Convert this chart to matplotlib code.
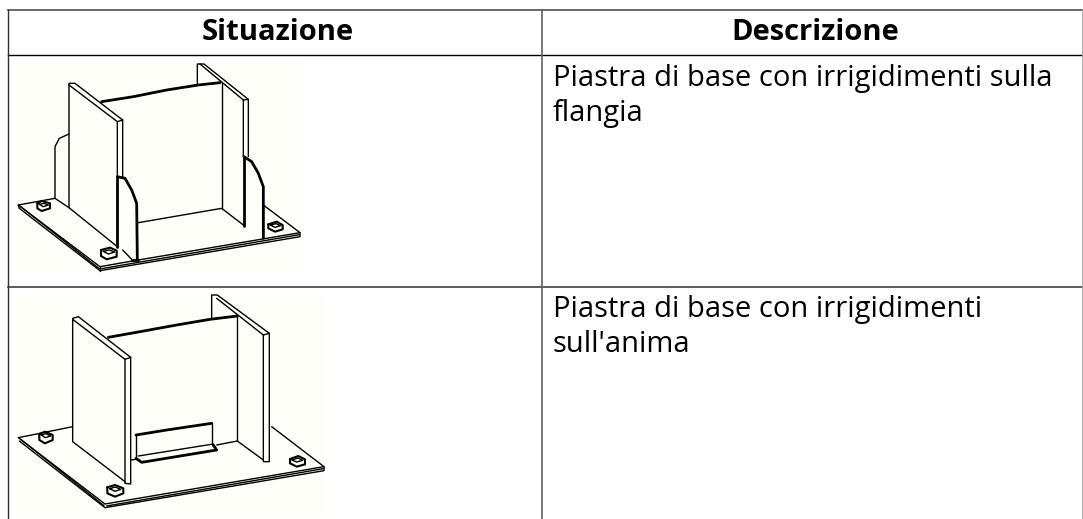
import matplotlib
matplotlib.use("Agg")
import matplotlib.pyplot as plt
from matplotlib.patches import Rectangle

# table content
headers = ["Situazione", "Descrizione"]
row1_lines = ["Piastra di base con irrigidimenti sulla", "flangia"]
row2_lines = ["Piastra di base con irrigidimenti", "sull'anima"]

# table grid in pixels
col_x = [7.5, 542, 1082.5]
row_y = [9.5, 55, 286.7, 519]

# drawing 1 strokes, in 3x zoom units: (width, points)
drawing1 = [
    (1, [(55, 495), (300, 680), (415, 660), (900, 578), (790, 495)]),
    (1, [(58, 505), (300, 692), (900, 590), (900, 578)]),
    (1, [(55, 495), (58, 505)]),
    (1, [(300, 680), (300, 692)]),
    (1, [(62, 500), (298, 686)]),
    (1, [(305, 686), (898, 584)]),
    (1, [(55, 495), (165, 475)]),
    (1, [(165, 475), (207, 503)]),
    (1, [(207, 503), (352, 620)]),
    (1, [(368, 630), (395, 658)]),
    (1, [(207, 500), (207, 130), (225, 130), (368, 240), (368, 410)]),
    (1, [(207, 135), (352, 245), (352, 410)]),
    (1, [(352, 245), (368, 240)]),
    (2, [(352, 410), (352, 620)]),
    (2, [(352, 410), (375, 415), (395, 450), (410, 490), (412, 660)]),
    (2, [(395, 660), (415, 660)]),
    (1, [(165, 475), (165, 320), (178, 295), (207, 282)]),
    (2, [(305, 185), (400, 170), (500, 150), (595, 135), (660, 128)]),
    (1, [(592, 135), (592, 72), (612, 72), (745, 178), (745, 350)]),
    (1, [(600, 72), (730, 180), (730, 350)]),
    (1, [(730, 180), (745, 178)]),
    (1, [(665, 130), (665, 505)]),
    (1, [(415, 548), (665, 505), (730, 555)]),
    (2, [(732, 350), (732, 558)]),
    (2, [(732, 350), (755, 365), (775, 400), (790, 440), (790, 595)]),
    (1, [(790, 495), (790, 595)]),
    (1.5, [(112, 490), (125, 483), (150, 490), (150, 505), (125, 513), (112, 505), (112, 490)]),
    (1, [(118, 493), (132, 490), (145, 495), (130, 500), (118, 493)]),
    (1.5, [(303, 630), (330, 623), (350, 632), (350, 650), (320, 658), (303, 648), (303, 630)]),
    (1, [(310, 634), (328, 630), (344, 636), (325, 642), (310, 634)]),
    (1.5, [(805, 553), (830, 545), (848, 555), (848, 568), (825, 575), (805, 565), (805, 553)]),
    (1, [(811, 555), (828, 551), (842, 557), (825, 562), (811, 555)]),
]

# drawing 2 strokes
drawing2 = [
    (1, [(55, 473), (315, 672), (972, 560), (815, 440)]),
    (1, [(58, 483), (315, 683), (972, 572), (972, 560)]),
    (1, [(62, 478), (312, 677)]),
    (1, [(320, 678), (970, 566)]),
    (1, [(55, 473), (218, 440)]),
    (1, [(218, 485), (375, 605)]),
    (1, [(218, 485), (218, 115), (235, 110), (392, 232), (392, 612), (375, 610), (375, 238), (218, 118)]),
    (1, [(375, 238), (392, 232)]),
    (2, [(325, 172), (420, 155), (530, 135), (630, 118), (712, 108)]),
    (1, [(635, 118), (635, 45), (652, 45), (808, 160), (808, 545), (790, 545), (790, 165), (650, 55)]),
    (1, [(790, 165), (808, 160)]),
    (1, [(712, 105), (712, 483)]),
    (1, [(392, 540), (408, 538)]),
    (1, [(650, 495), (712, 483), (790, 540)]),
    (2, [(408, 465), (500, 450), (635, 430)]),
    (1, [(408, 465), (408, 535)]),
    (1, [(635, 430), (635, 495)]),
    (1, [(415, 528), (640, 492)]),
    (2, [(408, 535), (425, 547), (650, 510), (640, 495)]),
    (1.5, [(118, 462), (135, 455), (158, 465), (158, 480), (135, 490), (118, 480), (118, 462)]),
    (1, [(124, 465), (138, 461), (152, 468), (136, 473), (124, 465)]),
    (1.5, [(322, 622), (345, 615), (370, 625), (370, 640), (345, 650), (322, 640), (322, 622)]),
    (1, [(329, 626), (346, 621), (362, 628), (345, 634), (329, 626)]),
    (1.5, [(870, 537), (895, 528), (915, 538), (915, 553), (890, 560), (870, 550), (870, 537)]),
    (1, [(876, 540), (894, 534), (908, 541), (890, 546), (876, 540)]),
]

plt.rcParams['font.family'] = ['Open Sans', 'DejaVu Sans']

fig = plt.figure(figsize=(10.83, 5.19), dpi=100)
ax = fig.add_axes([0, 0, 1, 1])
ax.set_xlim(0, 1083)
ax.set_ylim(519, 0)
ax.axis('off')


def draw_picture(strokes, x0, y0):
    for width, pts in strokes:
        xs = [x0 + p[0] / 3 for p in pts]
        ys = [y0 + p[1] / 3 for p in pts]
        ax.plot(xs, ys, color='black', lw=1.0 * width, solid_capstyle='round', zorder=3)


# picture backgrounds
ax.add_patch(Rectangle((17, 63), 284, 209, color='#fffffa', lw=0, zorder=1))
ax.add_patch(Rectangle((17, 294), 308, 224, color='#fffffa', lw=0, zorder=1))

draw_picture(drawing1, 0, 40)
draw_picture(drawing2, 0, 280)

# grid lines
ax.plot([col_x[0], col_x[2]], [row_y[0]] * 2, color='#505050', lw=1.2, zorder=2)
ax.plot([col_x[0], col_x[2]], [row_y[1]] * 2, color='black', lw=1.0, zorder=2)
ax.plot([col_x[0], col_x[2]], [row_y[2]] * 2, color='#404040', lw=1.2, zorder=2)
ax.plot([col_x[0]] * 2, [row_y[0], row_y[3]], color='#303030', lw=1.0, zorder=2)
ax.plot([col_x[1]] * 2, [row_y[0], row_y[3]], color='#606060', lw=1.2, zorder=2)
ax.plot([col_x[2]] * 2, [row_y[0], row_y[3]], color='#a0a0a0', lw=1.2, zorder=2)

# header
ax.text(277.5, 40, headers[0], ha='center', va='baseline',
        fontsize=21, fontweight='bold', color='black')
ax.text(815.5, 39.5, headers[1], ha='center', va='baseline',
        fontsize=21, fontweight='bold', color='black')

# descriptions
for line, base in zip(row1_lines, [86, 121]):
    ax.text(553, base, line, ha='left', va='baseline', fontsize=21, color='black')
for line, base in zip(row2_lines, [317, 352]):
    ax.text(553, base, line, ha='left', va='baseline', fontsize=21, color='black')

fig.savefig('out.png', dpi=100)
